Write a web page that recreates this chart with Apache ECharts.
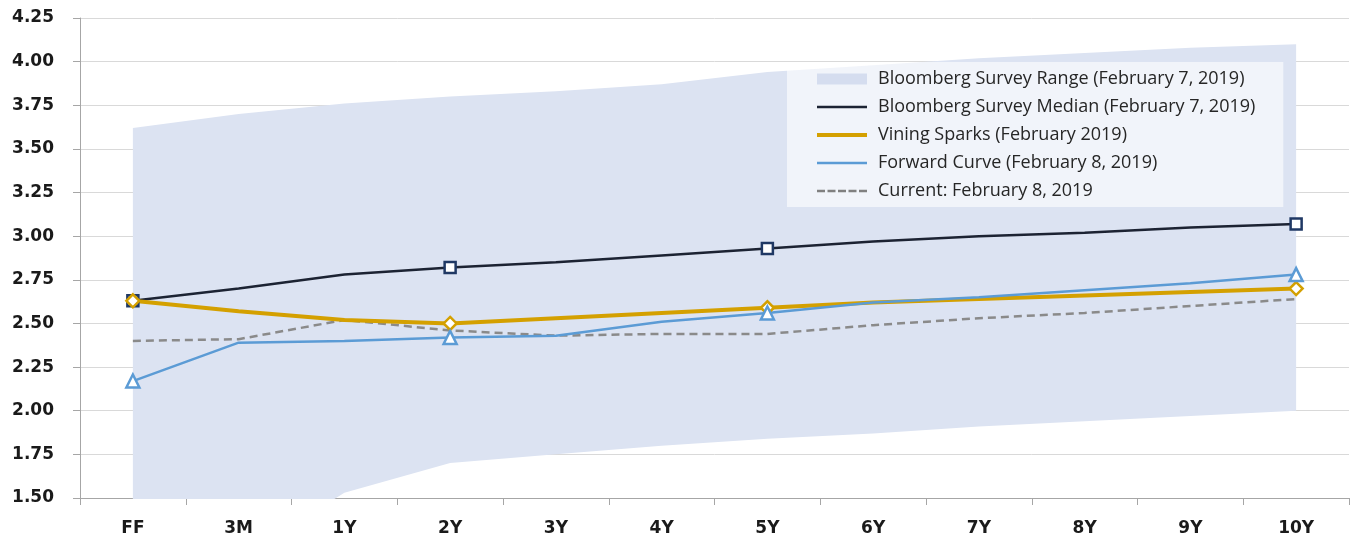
<!DOCTYPE html>
<html>
<head>
<meta charset="utf-8">
<script src="https://cdn.jsdelivr.net/npm/echarts@6/dist/echarts.min.js"></script>
<style>
    html, body { margin: 0; padding: 0; background: #fff; }
    #main { width: 1352px; height: 544px; }
</style>
</head>
<body>
<div id="main"></div>
<script>
    // tenors on the x axis
    const tenors = ['FF', '3M', '1Y', '2Y', '3Y', '4Y', '5Y', '6Y', '7Y', '8Y', '9Y', '10Y'];

    // Bloomberg survey range (low / high)
    const rangeLow = [1.15, 1.15, 1.53, 1.70, 1.75, 1.80, 1.84, 1.87, 1.91, 1.94, 1.97, 2.00];
    const rangeHigh = [3.62, 3.70, 3.76, 3.80, 3.83, 3.87, 3.94, 3.98, 4.02, 4.05, 4.08, 4.10];

    const surveyMedian = [2.63, 2.70, 2.78, 2.82, 2.85, 2.89, 2.93, 2.97, 3.00, 3.02, 3.05, 3.07];
    const viningSparks = [2.63, 2.57, 2.52, 2.50, 2.53, 2.56, 2.59, 2.62, 2.64, 2.66, 2.68, 2.70];
    const forwardCurve = [2.17, 2.39, 2.40, 2.42, 2.43, 2.51, 2.56, 2.62, 2.65, 2.69, 2.73, 2.78];
    const currentCurve = [2.40, 2.41, 2.52, 2.46, 2.43, 2.44, 2.44, 2.49, 2.53, 2.56, 2.60, 2.64];

    // points that carry a marker
    const markerIdx = [0, 3, 6, 11];

    const names = [
        'Bloomberg Survey Range (February 7, 2019)',
        'Bloomberg Survey Median (February 7, 2019)',
        'Vining Sparks (February 2019)',
        'Forward Curve (February 8, 2019)',
        'Current: February 8, 2019'
    ];

    const rangeBand = rangeHigh.map((v, i) => +(v - rangeLow[i]).toFixed(2));
    const markerAt = shape => (val, params) => markerIdx.indexOf(params.dataIndex) >= 0 ? shape : 'none';

    const lineIcon = 'path://M0,0H50V2.4H0Z';
    const thickIcon = 'path://M0,0H50V4H0Z';
    const dashIcon = 'path://M0,0H8V2.4H0ZM10.5,0H18.5V2.4H10.5ZM21,0H29V2.4H21ZM31.5,0H39.5V2.4H31.5ZM42,0H50V2.4H42Z';

    const chart = echarts.init(document.getElementById('main'));

    const option = {
        animation: false,
        grid: { left: 80, right: 3, top: 18, bottom: 46, containLabel: false },
        legend: {
            orient: 'vertical',
            left: 787,
            top: 62,
            padding: [8, 28, 7, 30],
            itemGap: 10,
            itemWidth: 50,
            itemHeight: 14,
            backgroundColor: 'rgba(255,255,255,0.6)',
            textStyle: { fontFamily: 'Open Sans', fontSize: 18, color: '#262626', padding: [0, 0, 0, 6] },
            data: [
                { name: names[0], icon: 'path://M0,0H50V11H0Z', itemStyle: { color: '#d5ddef', borderWidth: 0 } },
                { name: names[1], icon: lineIcon, itemStyle: { color: '#1c2333', borderWidth: 0 } },
                { name: names[2], icon: thickIcon, itemStyle: { color: '#d4a000', borderWidth: 0 } },
                { name: names[3], icon: lineIcon, itemStyle: { color: '#5b9bd5', borderWidth: 0 } },
                { name: names[4], icon: dashIcon, itemStyle: { color: '#808080', borderWidth: 0 } }
            ]
        },
        xAxis: {
            type: 'category',
            data: tenors,
            boundaryGap: true,
            axisLine: { lineStyle: { color: '#a6a6a6', width: 1 } },
            axisTick: { show: true, length: 7, lineStyle: { color: '#a6a6a6' } },
            axisLabel: {
                margin: 22,
                fontFamily: 'DejaVu Sans',
                fontWeight: 'bold',
                fontSize: 17,
                color: '#1a1a1a'
            },
            splitLine: { show: false }
        },
        yAxis: {
            type: 'value',
            min: 1.5,
            max: 4.25,
            interval: 0.25,
            axisLine: { show: true, lineStyle: { color: '#a6a6a6', width: 1 } },
            axisTick: { show: true, length: 7, lineStyle: { color: '#a6a6a6' } },
            axisLabel: {
                margin: 26,
                fontFamily: 'DejaVu Sans',
                fontWeight: 'bold',
                fontSize: 17,
                color: '#1a1a1a',
                formatter: v => v.toFixed(2)
            },
            splitLine: { lineStyle: { color: '#d9d9d9', width: 1 } }
        },
        series: [
            {
                name: 'rangeBase',
                type: 'line',
                stack: 'range',
                data: rangeLow,
                symbol: 'none',
                lineStyle: { opacity: 0 },
                silent: true
            },
            {
                name: names[0],
                type: 'line',
                stack: 'range',
                data: rangeBand,
                symbol: 'none',
                color: '#d5ddef',
                lineStyle: { opacity: 0 },
                areaStyle: { color: '#dce3f2', opacity: 1 }
            },
            {
                name: names[4],
                type: 'line',
                data: currentCurve,
                symbol: 'none',
                color: '#808080',
                lineStyle: { color: '#8a8a8a', width: 2.5, type: [8, 5] }
            },
            {
                name: names[1],
                type: 'line',
                data: surveyMedian,
                color: '#1c2333',
                symbol: markerAt('rect'),
                symbolSize: 11,
                lineStyle: { color: '#1c2333', width: 2.5 },
                itemStyle: { color: '#fff', borderColor: '#1f3864', borderWidth: 2.5 }
            },
            {
                name: names[2],
                type: 'line',
                data: viningSparks,
                color: '#d4a000',
                symbol: markerAt('diamond'),
                symbolSize: 13,
                lineStyle: { color: '#d4a000', width: 4 },
                itemStyle: { color: '#fff', borderColor: '#d4a000', borderWidth: 2.5 }
            },
            {
                name: names[3],
                type: 'line',
                data: forwardCurve,
                color: '#5b9bd5',
                symbol: markerAt('triangle'),
                symbolSize: 13,
                lineStyle: { color: '#5b9bd5', width: 2.5 },
                itemStyle: { color: '#fff', borderColor: '#5b9bd5', borderWidth: 2.5 }
            }
        ]
    };

    chart.setOption(option);
</script>
</body>
</html>
